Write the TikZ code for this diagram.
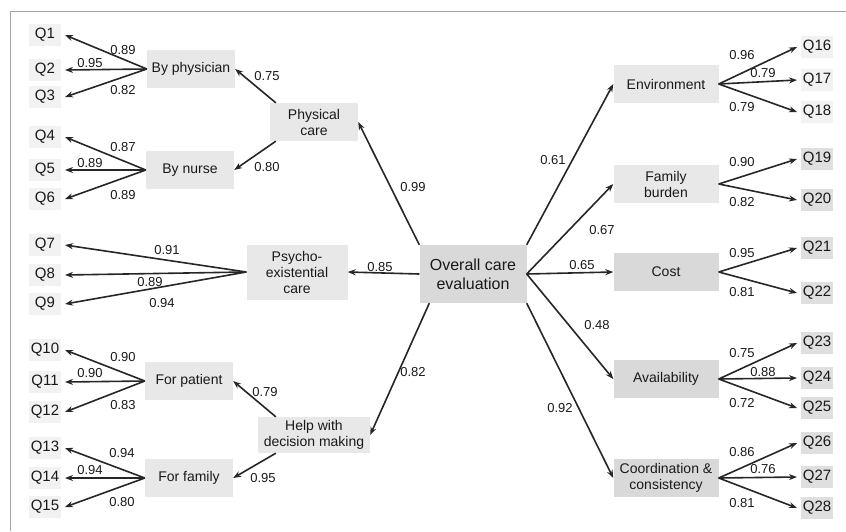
\documentclass[tikz,border=0pt]{standalone}
\usepackage{fontspec}
\setmainfont{Liberation Sans}
\usetikzlibrary{arrows.meta}

\tikzstyle{conbox} = [fill=gray!18, text=black!90, align=center, inner sep=1pt,
    minimum width=88pt, minimum height=38pt, font=\fontsize{14}{16}\selectfont]
\tikzstyle{rightbox} = [conbox, minimum width=105pt]
\tikzstyle{darkbox} = [rightbox, fill=gray!30]
\tikzstyle{qbox} = [fill=gray!10, text=black!90, minimum width=32pt, minimum height=22pt,
    inner sep=1pt, outer sep=4pt, font=\fontsize{15}{16}\selectfont]
\tikzstyle{qdark} = [qbox, fill=gray!25]
\tikzstyle{wlabel} = [text=black!90, inner sep=0pt, font=\fontsize{13}{14}\selectfont]
\tikzstyle{myarrow} = [draw=black!85, line width=1.6pt, -{Stealth[length=8pt,width=6pt]}]

\begin{document}
\begin{tikzpicture}[x=1pt, y=-1pt]
\useasboundingbox (0,0) rectangle (846,531);
\draw[gray!70, line width=1pt] (10,531) -- (10,11) -- (846,11);

%------------ Konstrukte ---------------------
\node [conbox, fill=gray!30, minimum width=107pt, minimum height=58pt,
    font=\fontsize{16}{19}\selectfont] (overall) at (473,274) {Overall care\\evaluation};
\node [conbox] (phys) at (314,122) {Physical\\care};
\node [conbox, minimum width=101pt, minimum height=55pt] (psycho) at (297,272) {Psycho-\\existential\\care};
\node [conbox, minimum width=112pt, minimum height=36pt] (help) at (314,435) {Help with\\decision making};
\node [conbox] (byphys) at (191,69) {By physician};
\node [conbox] (bynurse) at (190,170) {By nurse};
\node [conbox] (forpat) at (189,381) {For patient};
\node [conbox] (forfam) at (189,478) {For family};
\node [rightbox] (env) at (666,84) {Environment};
\node [rightbox] (famb) at (666,184) {Family\\burden};
\node [darkbox] (cost) at (666,272) {Cost};
\node [darkbox] (avail) at (666,379) {Availability};
\node [darkbox] (coord) at (666,478) {Coordination \&\\consistency};

%------------ Items ---------------------
\foreach \n/\y in {1/35, 2/70, 3/97, 4/137, 5/170, 6/199, 7/245, 8/275, 9/304,
    10/350, 11/382, 12/412, 13/448, 14/478, 15/507}
    \node [qbox] (q\n) at (45,\y) {Q\n};
\foreach \n/\y in {16/47, 17/80, 18/112}
    \node [qbox] (q\n) at (817,\y) {Q\n};
\foreach \n/\y in {19/159, 20/200, 21/248, 22/293, 23/343, 24/378, 25/408,
    26/443, 27/477, 28/508}
    \node [qdark] (q\n) at (817,\y) {Q\n};

%------------ Pfeile ---------------------
\draw [myarrow] (overall.north west) -- (phys.east);
\draw [myarrow] (overall.west) -- (psycho.east);
\draw [myarrow] ([xshift=10pt]overall.south west) -- (help.east);
\draw [myarrow] ([xshift=6pt]phys.north west) -- (byphys.east);
\draw [myarrow] ([xshift=6pt]phys.south west) -- (bynurse.east);
\draw [myarrow] ([xshift=18pt]help.north west) -- (forpat.east);
\draw [myarrow] ([xshift=18pt]help.south west) -- (forfam.east);
\draw [myarrow] (overall.north east) -- (env.west);
\foreach \t in {famb, cost, avail}
    \draw [myarrow] (overall.east) -- (\t.west);
\draw [myarrow] (overall.south east) -- (coord.west);

\foreach \s/\n in {byphys/1, byphys/2, byphys/3, bynurse/4, bynurse/5, bynurse/6,
    psycho/7, psycho/8, psycho/9, forpat/10, forpat/11, forpat/12,
    forfam/13, forfam/14, forfam/15}
    \draw [myarrow] (\s.west) -- (q\n.east);
\foreach \s/\n in {env/16, env/17, env/18, famb/19, famb/20, cost/21, cost/22,
    avail/23, avail/24, avail/25, coord/26, coord/27, coord/28}
    \draw [myarrow] (\s.east) -- (q\n.west);

%------------ Ladungen ---------------------
\foreach \x/\y/\w [count=\i] in {123/50/0.89, 90/63/0.95, 123/90/0.82,
    267/76/0.75, 267/167/0.80, 123/147/0.87, 90/163/0.89, 123/195/0.89,
    167/250/0.91, 150/282/0.89, 162/303/0.94, 413/187/0.99, 380/267/0.85,
    123/357/0.90, 90/373/0.90, 123/405/0.83, 265/392/0.79, 413/372/0.82,
    122/453/0.94, 90/470/0.94, 122/502/0.80, 263/478/0.95,
    553/160/0.61, 602/230/0.67, 582/265/0.65, 597/325/0.48, 560/408/0.92,
    742/55/0.96, 763/73/0.79, 742/107/0.79, 742/162/0.90, 742/202/0.82,
    742/253/0.95, 742/292/0.81, 742/353/0.75, 763/372/0.88, 742/403/0.72,
    742/452/0.86, 763/469/0.76, 742/503/0.81}
    \node [wlabel] (w\i) at (\x,\y) {\w};
\end{tikzpicture}
\end{document}
